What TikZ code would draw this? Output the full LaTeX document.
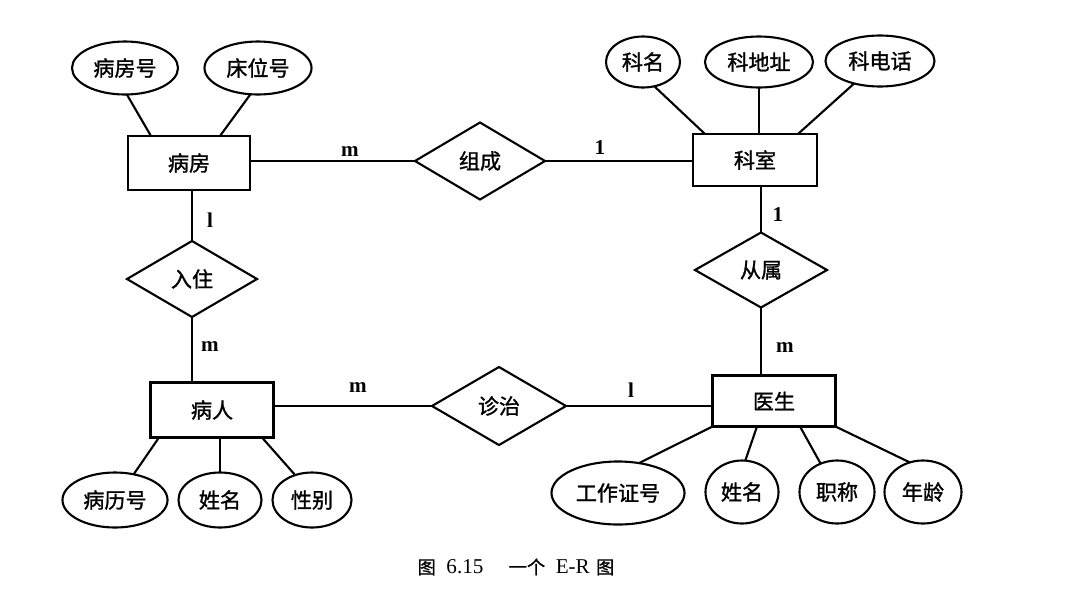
\documentclass[tikz,border=0pt]{standalone}
\usepackage{fontspec}
\setmainfont{Liberation Serif}
\newfontfamily\cjk{Noto Sans CJK SC}[FakeBold=1.2]
\newfontfamily\cjkcap{Noto Sans CJK SC}[FakeBold=0.8]
\usetikzlibrary{shapes.geometric,calc}
\begin{document}
\begin{tikzpicture}[x=0.025cm,y=-0.025cm,
  every node/.style={inner sep=0pt, outer sep=0pt},
  lbl/.style={font=\cjk\fontsize{15}{18}\selectfont},
  ent/.style={draw, line width=1.5pt, rectangle, lbl},
  attr/.style={draw, line width=1.5pt, ellipse, lbl},
  rel/.style={draw, line width=1.5pt, diamond, lbl},
  card/.style={font=\bfseries\fontsize{15}{17}\selectfont},
  link/.style={line width=1.5pt}]
\useasboundingbox (0,0) rectangle (1080,601);
% entities
\node[ent, minimum width=3.05cm, minimum height=1.35cm] (bf) at (189,163) {病房};
\node[ent, minimum width=3.1cm, minimum height=1.3cm] (ks) at (755,160) {科室};
\node[ent, minimum width=3.075cm, minimum height=1.375cm] (br) at (212,410) {病人};
\node[ent, minimum width=3.075cm, minimum height=1.275cm] (ys) at (774,401) {医生};
% relationships
\node[rel, minimum width=3.25cm, minimum height=1.925cm] (zc) at (480,161) {组成};
\node[rel, minimum width=3.25cm, minimum height=1.9cm] (rz) at (192,279) {入住};
\node[rel, minimum width=3.3cm, minimum height=1.875cm] (cs) at (761,270) {从属};
\node[rel, minimum width=3.35cm, minimum height=1.95cm] (zz) at (499,406) {诊治};
% attributes
\node[attr, minimum width=2.65cm, minimum height=1.325cm] (bfh) at (125,68) {病房号};
\node[attr, minimum width=2.675cm, minimum height=1.325cm] (cwh) at (258,68) {床位号};
\node[attr, minimum width=1.85cm, minimum height=1.275cm] (km) at (643,62) {科名};
\node[attr, minimum width=2.7cm, minimum height=1.275cm] (kdz) at (759,62) {科地址};
\node[attr, minimum width=2.725cm, minimum height=1.275cm] (kdh) at (880,61) {科电话};
\node[attr, minimum width=2.625cm, minimum height=1.375cm] (blh) at (115,500) {病历号};
\node[attr, minimum width=2.075cm, minimum height=1.375cm] (xm1) at (220,500) {姓名};
\node[attr, minimum width=1.975cm, minimum height=1.375cm] (xb) at (312,500) {性别};
\node[attr, minimum width=3.325cm, minimum height=1.575cm] (gzh) at (618,493) {工作证号};
\node[attr, minimum width=1.825cm, minimum height=1.575cm] (xm2) at (742,492) {姓名};
\node[attr, minimum width=1.875cm, minimum height=1.575cm] (zc2) at (837,492) {职称};
\node[attr, minimum width=1.925cm, minimum height=1.575cm] (nl) at (923,492) {年龄};
% relationship links
\draw[link] (bf.east |- zc.west) -- (zc.west);
\draw[link] (zc.east) -- (zc.east -| ks.west);
\draw[link] (rz.north) -- (rz.north |- bf.south);
\draw[link] (rz.south) -- (rz.south |- br.north);
\draw[link] (cs.north) -- (cs.north |- ks.south);
\draw[link] (cs.south) -- (cs.south |- ys.north);
\draw[link] (zz.west) -- (zz.west -| br.east);
\draw[link] (zz.east) -- (zz.east -| ys.west);
% attribute links
\draw[link] (bfh.-86) -- ($(bf.north west)+(23,0)$);
\draw[link] (cwh.-106) -- ($(bf.north west)+(92,0)$);
\draw[link] (km.-65) -- ($(ks.north west)+(12,0)$);
\draw[link] (kdz.south) -- (kdz.south |- ks.north);
\draw[link] (kdh.-139) -- ($(ks.north west)+(105,0)$);
\draw[link] (blh.54) -- ($(br.south west)+(8.5,0)$);
\draw[link] (xm1.north) -- (xm1.north |- br.south);
\draw[link] (xb.124) -- ($(br.south west)+(111.5,0)$);
\draw[link] (gzh.55) -- (ys.south west);
\draw[link] (xm2.84) -- ($(ys.south west)+(44.5,0)$);
\draw[link] (zc2.120) -- ($(ys.south west)+(87.5,0)$);
\draw[link] (nl.114) -- (ys.south east);
% cardinalities
\node[card] (c1) at (350,152) {m};
\node[card] (c2) at (600,148) {1};
\node[card] (c3) at (210,220) {l};
\node[card] (c4) at (210,347) {m};
\node[card] (c5) at (778,215) {1};
\node[card] (c6) at (785,348) {m};
\node[card] (c7) at (358,388) {m};
\node[card] (c8) at (631,390) {l};
% caption
\node[font=\fontsize{15}{17}\selectfont] (cap) at (516,567) {{\cjkcap\fontsize{13}{15}\selectfont 图}\hspace{0.5em}6.15\hspace{1.2em}{\cjkcap\fontsize{13}{15}\selectfont 一个}\hspace{0.5em}E-R\hspace{0.3em}{\cjkcap\fontsize{13}{15}\selectfont 图}};
\end{tikzpicture}
\end{document}
